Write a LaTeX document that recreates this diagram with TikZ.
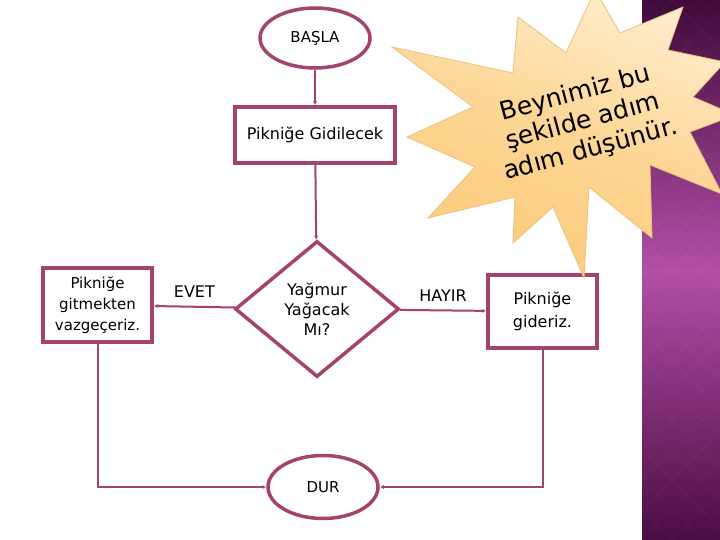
\documentclass[tikz,border=0pt]{standalone}
\usepackage{fontspec}
\setmainfont{DejaVu Sans}
\usepackage{tikz}
\usetikzlibrary{positioning,arrows.meta,shapes.geometric,calc}
\definecolor{flow}{HTML}{A4436D}
\definecolor{bandtop}{HTML}{3F0B3A}
\definecolor{bandmid}{HTML}{B24FA7}
\definecolor{bandlow}{HTML}{4B0C43}
\definecolor{starlight}{HTML}{FFEDCC}
\definecolor{stardark}{HTML}{FCCB7C}
\definecolor{staredge}{HTML}{EDC07A}

\begin{document}
\begin{tikzpicture}[
    x=1pt, y=-1pt,
    >={Latex[length=4pt,width=4pt]},
    terminal/.style={draw=flow, line width=3.5pt, ellipse, minimum width=110pt, minimum height=60pt, inner sep=0pt, font=\fontsize{15}{18}\selectfont},
    stepbox/.style={draw=flow, line width=3.5pt, rectangle, inner sep=2pt, align=center},
    decision/.style={draw=flow, line width=3.5pt, diamond, aspect=1.2, minimum width=164pt, minimum height=136pt, inner sep=0pt, align=center, font=\fontsize{16}{20}\selectfont},
    link/.style={draw=flow, line width=2pt, ->},
    answer/.style={font=\fontsize{16}{19}\selectfont}
  ]
    \useasboundingbox (0,0) rectangle (720,540);
    \fill[white] (0,0) rectangle (720,540);
    % Purple band
    \shade[top color=bandtop, bottom color=bandlow, middle color=bandmid] (642,0) rectangle (720,540);
    \begin{scope}
      \clip (642,0) rectangle (720,540);
      \foreach \k in {-120,-90,...,660}
        \draw[white, opacity=0.03, line width=1pt] (642,\k) -- (720,\k+78) (642,\k) -- (720,\k-78);
    \end{scope}
    % Flowchart
    \node[terminal] (start) at (315,38) {BAŞLA};
    \node[stepbox, minimum width=160pt, minimum height=56pt, font=\fontsize{16}{19}\selectfont] (go) at (315,135) {Pikniğe Gidilecek};
    \node[decision] (rain) at (317,309) {Yağmur\\Yağacak\\Mı?};
    \node[stepbox, minimum width=109pt, minimum height=74pt, font=\fontsize{15}{21}\selectfont] (quit) at (97.5,305) {Pikniğe\\gitmekten\\vazgeçeriz.};
    \node[stepbox, minimum width=109pt, minimum height=73pt, font=\fontsize{16}{23}\selectfont] (goon) at (542.5,311.5) {Pikniğe\\gideriz.};
    \node[terminal, minimum height=63pt] (stop) at (323,487) {DUR};
    % Arrows
    \draw[link] (start) -- (go);
    \draw[link] (go) -- (rain);
    \draw[link] (rain) -- node[answer, above=5pt] {EVET} (quit);
    \draw[link] (rain) -- node[answer, above=5pt] {HAYIR} (goon);
    \draw[link] (quit) |- (stop);
    \draw[link] (goon) |- (stop);
    % Starburst note
    \shade[top color=starlight, bottom color=stardark, middle color=stardark!70!starlight, shading angle=-20, draw=staredge, line width=0.8pt]
      (392,47) -- (473,107) -- (407,137) -- (475,167) -- (428,218) -- (515,197)
      -- (513,243) -- (553,207) -- (584,278) -- (589,187) -- (652,238) -- (650,165)
      -- (722,194) -- (690,132) -- (735,115) -- (693,97) -- (725,62) -- (668,50)
      -- (683,7) -- (620,33) -- (595,-10) -- (566,53) -- (518,17) -- (513,73) -- cycle;
    \node[rotate=15, align=center, font=\fontsize{25}{29}\selectfont] (note) at (583,122) {Beynimiz bu\\şekilde adım\\adım düşünür.};
  \end{tikzpicture}
\end{document}
